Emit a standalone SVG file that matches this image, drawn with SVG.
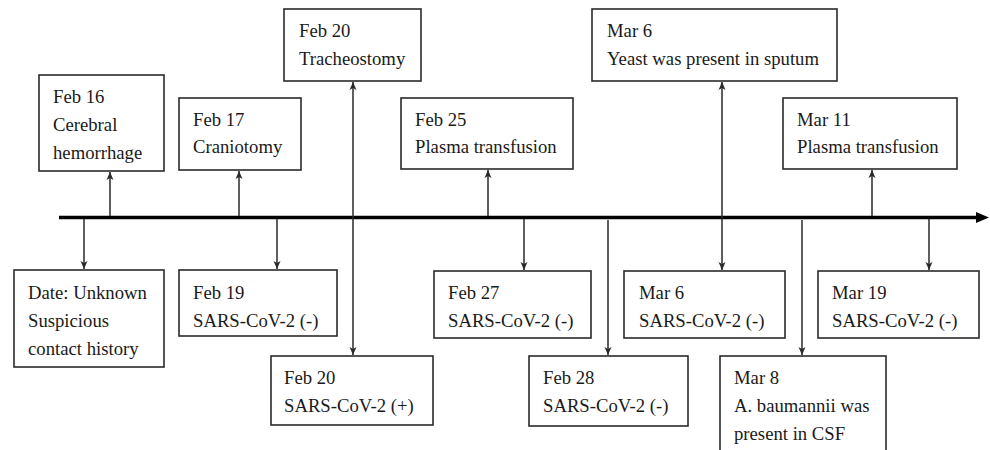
<svg xmlns="http://www.w3.org/2000/svg" width="990" height="450" viewBox="0 0 990 450">
<style>
.box{fill:#fff;stroke:#2a2a2a;stroke-width:1.6}
.t{font-family:"Liberation Serif","Times New Roman",serif;font-size:18.7px;fill:#1a1a1a}
.c{fill:none;stroke:#2a2a2a;stroke-width:1.5}
.axis{fill:none;stroke:#000;stroke-width:3.5}
</style>
<defs>
<marker id="ah" markerUnits="userSpaceOnUse" markerWidth="10" markerHeight="10" viewBox="0 0 10 10" refX="9" refY="5" orient="auto-start-reverse">
<path d="M1,1.5 L9,5 L1,8.5 L3,5 Z" fill="#2a2a2a"/>
</marker>
<marker id="big" markerUnits="userSpaceOnUse" markerWidth="14" markerHeight="12" viewBox="0 0 14 12" refX="1" refY="6" orient="auto">
<path d="M0,0.5 L13,6 L0,11.5 Z" fill="#000"/>
</marker>
</defs>
<rect width="990" height="450" fill="#fff"/>
<g id="connectors">
<line class="axis" x1="59" y1="217.5" x2="977" y2="217.5" marker-end="url(#big)"/>
<line class="c" x1="110" y1="216" x2="110" y2="172" marker-end="url(#ah)"/>
<line class="c" x1="239" y1="216" x2="239" y2="171" marker-end="url(#ah)"/>
<line class="c" x1="488" y1="216" x2="488" y2="170" marker-end="url(#ah)"/>
<line class="c" x1="872" y1="216" x2="872" y2="170" marker-end="url(#ah)"/>
<line class="c" x1="84" y1="219" x2="84" y2="269" marker-end="url(#ah)"/>
<line class="c" x1="277" y1="219" x2="277" y2="269" marker-end="url(#ah)"/>
<line class="c" x1="524" y1="219" x2="524" y2="270" marker-end="url(#ah)"/>
<line class="c" x1="929" y1="219" x2="929" y2="270" marker-end="url(#ah)"/>
<line class="c" x1="608" y1="220" x2="608" y2="355" marker-end="url(#ah)"/>
<line class="c" x1="802" y1="220" x2="802" y2="355" marker-end="url(#ah)"/>
<line class="c" x1="353" y1="82" x2="353" y2="355" marker-start="url(#ah)" marker-end="url(#ah)"/>
<line class="c" x1="722" y1="82" x2="722" y2="270" marker-start="url(#ah)" marker-end="url(#ah)"/>
</g>
<g id="feb16">
<rect class="box" x="39" y="75" width="125" height="96"/>
<text class="t" x="53" y="103">Feb 16</text>
<text class="t" x="53" y="131">Cerebral</text>
<text class="t" x="53" y="159">hemorrhage</text>
</g>
<g id="feb17">
<rect class="box" x="179" y="98" width="122" height="72"/>
<text class="t" x="193" y="126">Feb 17</text>
<text class="t" x="193" y="153">Craniotomy</text>
</g>
<g id="feb20-trach">
<rect class="box" x="284" y="9" width="137" height="72"/>
<text class="t" x="299" y="37">Feb 20</text>
<text class="t" x="299" y="65">Tracheostomy</text>
</g>
<g id="feb25">
<rect class="box" x="401" y="98" width="172" height="71"/>
<text class="t" x="415" y="126">Feb 25</text>
<text class="t" x="415" y="153">Plasma transfusion</text>
</g>
<g id="mar6-yeast">
<rect class="box" x="592" y="9" width="245" height="72"/>
<text class="t" x="607" y="37">Mar 6</text>
<text class="t" x="607" y="65">Yeast was present in sputum</text>
</g>
<g id="mar11">
<rect class="box" x="783" y="98" width="174" height="71"/>
<text class="t" x="797" y="126">Mar 11</text>
<text class="t" x="797" y="153">Plasma transfusion</text>
</g>
<g id="unknown">
<rect class="box" x="14" y="270" width="150" height="97"/>
<text class="t" x="28" y="299">Date: Unknown</text>
<text class="t" x="28" y="327">Suspicious</text>
<text class="t" x="28" y="355">contact history</text>
</g>
<g id="feb19">
<rect class="box" x="179" y="270" width="158" height="66"/>
<text class="t" x="193" y="299">Feb 19</text>
<text class="t" x="193" y="327">SARS-CoV-2 (-)</text>
</g>
<g id="feb20-pos">
<rect class="box" x="271" y="356" width="162" height="69"/>
<text class="t" x="284" y="384">Feb 20</text>
<text class="t" x="284" y="412">SARS-CoV-2 (+)</text>
</g>
<g id="feb27">
<rect class="box" x="434" y="271" width="157" height="67"/>
<text class="t" x="448" y="299">Feb 27</text>
<text class="t" x="448" y="327">SARS-CoV-2 (-)</text>
</g>
<g id="feb28">
<rect class="box" x="529" y="356" width="159" height="70"/>
<text class="t" x="543" y="384">Feb 28</text>
<text class="t" x="543" y="412">SARS-CoV-2 (-)</text>
</g>
<g id="mar6-neg">
<rect class="box" x="624" y="271" width="161" height="67"/>
<text class="t" x="639" y="299">Mar 6</text>
<text class="t" x="639" y="327">SARS-CoV-2 (-)</text>
</g>
<g id="mar8">
<rect class="box" x="720" y="356" width="166" height="110"/>
<text class="t" x="734" y="384">Mar 8</text>
<text class="t" x="734" y="412">A. baumannii was</text>
<text class="t" x="734" y="440">present in CSF</text>
</g>
<g id="mar19">
<rect class="box" x="818" y="271" width="161" height="67"/>
<text class="t" x="832" y="299">Mar 19</text>
<text class="t" x="832" y="327">SARS-CoV-2 (-)</text>
</g>
</svg>
